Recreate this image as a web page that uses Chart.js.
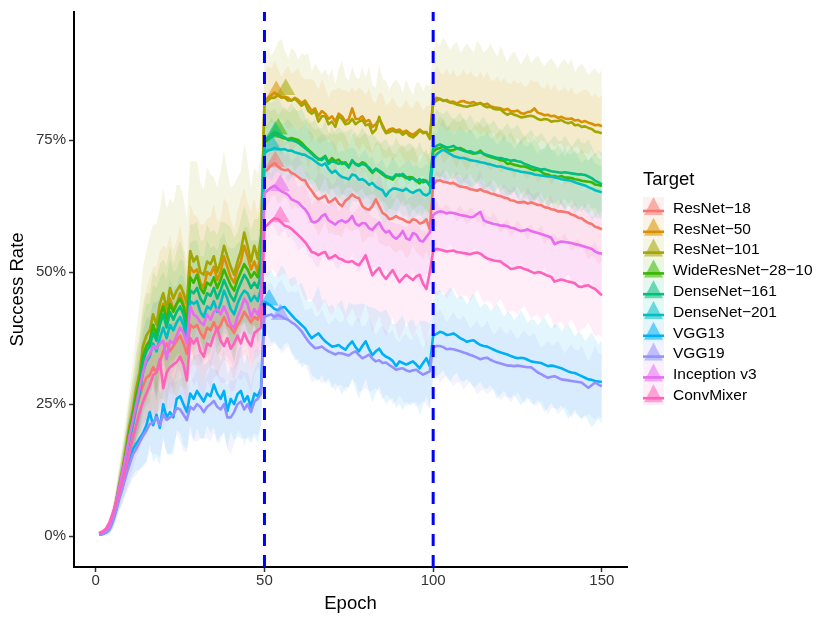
<!DOCTYPE html>
<html>
<head>
<meta charset="utf-8">
<script src="https://cdn.jsdelivr.net/npm/chart.js@4.4.1/dist/chart.umd.min.js"></script>
<style>
  html, body { margin: 0; padding: 0; background: #fff; }
  #wrap { width: 830px; height: 624px; position: relative; }
</style>
</head>
<body>
<div id="wrap"><canvas id="chart" width="830" height="624"></canvas></div>
<script>
var epochs = [];
for (var e = 1; e <= 150; e++) epochs.push(e);

var targets = ['ResNet\u221218', 'ResNet\u221250', 'ResNet\u2212101', 'WideResNet\u221228\u221210', 'DenseNet\u2212161',
    'DenseNet\u2212201', 'VGG13', 'VGG19', 'Inception v3', 'ConvMixer'];
var colors = ['#F8766D', '#D89000', '#A3A500', '#39B600', '#00BF7D', '#00BFC4', '#00B0F6', '#9590FF', '#E76BF3', '#FF62BC'];

var xTicks = [0, 50, 100, 150];
var yTicks = [0, 25, 50, 75];
var resetEpochs = [50, 100];

// success rate (%) per epoch
var resnet18 = [
    0.4, 0.6, 0.9, 1.7, 3.4, 6, 9, 12, 15, 18,
    21, 24, 26.5, 28.5, 30, 30.5, 32, 31, 33, 35,
    36.5, 35, 36, 37, 38, 36.5, 34.5, 40, 39.5, 40,
    38.5, 37.5, 39.5, 39, 40.5, 39, 40, 41.5, 40, 39.5,
    38.5, 40, 41, 42.5, 41.5, 40.5, 41.5, 41, 43,
    69, 69.5, 70.2, 70.6, 70, 69.5, 69.3, 69.4, 68.8, 68.5,
    68, 67.5, 67.4, 66.2, 65.4, 64.4, 63.8, 64.1, 64.5, 63.2,
    63.5, 64, 63, 62.5, 63.5, 64, 64.7, 64.2, 64, 62.5,
    62, 61.8, 62.5, 63.8, 62.5, 61.2, 60.8, 60, 60.2, 60.6,
    60.2, 60, 59.6, 59.4, 60, 59.8, 59.2, 59.4, 60, 58.1,
    66.5, 67.3, 67.4, 67.1, 67, 66.8, 66.9, 66.5, 66.2, 66.1,
    66, 65.7, 65.6, 65.4, 65.7, 65.3, 65.2, 64.9, 64.8, 64.5,
    64.4, 64.1, 64, 63.6, 63.5, 63.2, 63.2, 63.3, 63, 63.2,
    63, 62.7, 62.7, 62.3, 62.2, 61.9, 61.8, 61.5, 61.5, 61.4,
    61.3, 60.9, 60.7, 60.3, 60.2, 59.7, 59.3, 59.1, 58.6, 58.4, 58.1
];
var resnet50 = [
    0.4, 0.6, 0.9, 1.6, 3.2, 6, 9.5, 12.5, 16, 20,
    23, 27, 30, 34, 36, 37, 40, 38, 42, 44,
    41.5, 45, 43, 44, 46, 44, 42, 51, 50, 50.5,
    48, 47, 50, 49.5, 51, 48.5, 50, 53, 51, 49,
    48, 50.5, 52, 55, 53, 50.5, 52, 50, 55,
    82.5, 83, 83.5, 84, 83.5, 83, 83.2, 83, 82.5, 83,
    82.6, 82, 82.5, 81.5, 80.5, 81, 79.5, 80.5, 80, 79,
    79.5, 78.5, 80, 79.5, 78.5, 79, 81, 79, 79, 79.5,
    78.5, 78.8, 77.5, 78, 79, 77.8, 76.5, 77, 77.2, 76.8,
    77, 76.5, 76.8, 76.3, 76, 76.5, 77, 76.5, 76.5, 75.5,
    82.5, 83, 82.8, 82.4, 82.6, 82.2, 82.3, 81.9, 82.3, 82.4,
    82.1, 82, 82.2, 81.8, 82, 81.7, 81.9, 81.4, 81.2, 81.1,
    81, 80.7, 80.9, 80.5, 80.4, 80.6, 80.1, 80, 80.3, 80.4,
    81, 80.2, 80, 79.7, 79.8, 79.5, 79.6, 79.2, 79.4, 79.1,
    79, 79.1, 78.7, 78.8, 78.4, 78.6, 78.3, 78.1, 77.8, 77.9, 77.6
];
var resnet101 = [
    0.4, 0.6, 0.9, 1.8, 3.5, 6.5, 10, 13, 17, 21,
    24, 28, 31, 36, 38, 39, 42, 40, 44, 46,
    43, 47, 45, 46.5, 47.5, 46, 44, 54, 52, 53,
    50, 49.5, 52, 51.5, 53, 50, 52, 55, 53, 51,
    49.5, 52, 54, 57.5, 55, 52, 55, 52.5, 57,
    82, 82.5, 83, 83, 83.5, 83.2, 83, 82.5, 82.5, 82.8,
    82.2, 81.5, 82, 80.5, 80, 80.5, 78.5, 79.5, 79.5, 78,
    78.5, 77.5, 79.5, 79, 78, 78.2, 79, 78, 78.5, 78.8,
    77.8, 78, 76.3, 77, 79.4, 77.5, 76.3, 76.5, 76.8, 76.5,
    76.6, 76, 76.5, 75.8, 75.5, 76, 76.8, 76.3, 76.5, 75.2,
    82, 82.5, 82.8, 82.5, 82.4, 82.1, 82, 81.7, 81.6, 81.4,
    81.3, 81.5, 81.6, 81.8, 82, 81.5, 81.2, 81.3, 80.9, 80.8,
    80.8, 80.2, 79.8, 80.1, 79.8, 79.6, 79.3, 79.4, 79.5, 79.6,
    79.4, 79, 78.8, 79, 78.9, 78.5, 78.6, 78.6, 78.8, 78.4,
    78.2, 78.4, 77.8, 77.9, 77.5, 77.6, 77.3, 77.1, 76.6, 76.5, 76.3
];
var wideResnet = [
    0.4, 0.6, 0.9, 1.7, 3.4, 6.2, 9.5, 12.5, 16, 20,
    23, 26.5, 29.5, 34, 36, 37, 40, 38, 41.5, 43.5,
    41, 44, 42.5, 44, 45, 43.5, 40.5, 49, 48, 49.5,
    47, 46, 48, 47.5, 49, 47, 48.5, 50.5, 49, 47.5,
    46.5, 48.5, 50, 51.5, 50.5, 49, 50, 49, 52,
    74.5, 75, 75.5, 76, 75.8, 75.5, 75.3, 75.2, 75.4, 75.2,
    75, 74.5, 73.8, 73.2, 72.6, 72, 71.3, 71.5, 72, 70.8,
    71.6, 71, 71.3, 70.5, 70.8, 70, 71, 70.5, 70.3, 70.8,
    70.5, 69.5, 68.8, 69.5, 69, 68.5, 68, 67.8, 67.5, 68.3,
    68.5, 68.2, 67.8, 68, 67.9, 67.3, 66.8, 67.5, 67.3, 66.3,
    72.8, 73.3, 73.5, 73.8, 73.3, 73, 73.1, 73.4, 73.5, 73.2,
    72.8, 72.6, 72.4, 72.6, 73, 72.3, 72, 71.8, 71.6, 71.4,
    71.2, 71.1, 70.5, 70.6, 70.3, 70.2, 70, 70, 69.8, 69.5,
    69.3, 69.4, 69, 68.6, 68.5, 68.2, 68.2, 68, 68.2, 67.9,
    67.9, 67.8, 67.6, 67.5, 67.3, 67.2, 67.1, 67, 66.6, 66.5, 66.3
];
var densenet161 = [
    0.4, 0.6, 0.9, 1.7, 3.3, 6, 9.2, 12, 15.5, 19,
    22, 25.5, 28.5, 33, 35, 36, 38.5, 37, 40, 42,
    39.5, 42.5, 41, 42.5, 43.5, 42, 38.5, 46.5, 46, 47,
    45, 44, 46, 45.5, 47, 45, 46.5, 48.5, 47, 45.5,
    44.5, 46.5, 48, 49.5, 48.5, 47, 48, 47, 50,
    75, 75.5, 76, 76.5, 76.3, 75.8, 75.5, 75, 75, 74.8,
    74.5, 74, 73.5, 73, 72.4, 71.8, 71.5, 71.2, 71.8, 70.5,
    71, 70.8, 70.5, 70.8, 70.5, 69.8, 71.2, 70.4, 70.1, 70.5,
    70.2, 69.8, 69, 69.6, 69.2, 68.8, 68.2, 68, 67.8, 68.5,
    68.2, 68.6, 68, 67.5, 67.8, 67.2, 67.6, 67, 67.2, 66.5,
    73.5, 73.9, 74.2, 73.9, 73.6, 73.7, 73.9, 73.5, 73.2, 73,
    72.8, 72.9, 72.6, 72.5, 72.7, 72.4, 72.2, 72, 71.8, 71.6,
    71.6, 71.4, 71.3, 71.1, 71.2, 71, 70.9, 70.5, 70.3, 70,
    69.8, 69.6, 69.4, 69.5, 69.3, 69.1, 69, 68.9, 68.8, 68.9,
    68.8, 68.7, 68.6, 68.5, 68.5, 68.4, 68.1, 67.8, 67.3, 67, 66.6
];
var densenet201 = [
    0.4, 0.6, 0.9, 1.6, 3.2, 5.8, 9, 11.5, 15, 18.5,
    21, 24.5, 27, 31, 33, 34, 36.5, 35, 37.5, 39.5,
    37.5, 40, 39, 40.5, 41.5, 40, 37, 44.5, 44, 44.5,
    42.5, 41.5, 43.5, 43, 44.5, 42.5, 44, 46.5, 45, 43,
    42, 44, 45.5, 46.5, 46, 44.5, 45.5, 44.5, 47,
    72.5, 73, 73.2, 73.5, 73.3, 73.2, 73.3, 73, 73, 72.7,
    72.5, 72.3, 72.2, 71.8, 71.5, 71, 70.5, 70.2, 70.6, 69.5,
    68.8, 69.2, 68.5, 68, 67.8, 67.6, 68.5, 68.3, 67.5, 67.6,
    67.2, 66.5, 66.9, 66.2, 65.8, 65.5, 64.4, 65.3, 65.8, 65.8,
    65.6, 65.4, 65.8, 65.3, 65, 65.4, 65.6, 64.8, 64.5, 65,
    71.5, 72.3, 72.8, 73.2, 72.8, 72.4, 72, 71.8, 71.6, 71.6,
    71.4, 71.2, 71.1, 71, 70.8, 70.7, 70.5, 70.4, 70.2, 70,
    70, 69.8, 69.6, 69.5, 69.3, 69.2, 69, 68.9, 68.8, 68.7,
    68.5, 68.4, 68.3, 68.2, 68.1, 68.1, 67.9, 67.8, 67.6, 67.5,
    67.4, 67.3, 67, 66.8, 66.6, 66.4, 66.1, 65.8, 65.5, 65.3, 65.1
];
var vgg13 = [
    0.3, 0.4, 0.7, 1.3, 2.8, 5, 7.5, 9.5, 12, 14,
    16.5, 17.5, 18.5, 19.5, 21, 23.5, 21, 23, 20.5, 25,
    22.5, 23.5, 22.5, 26, 26.5, 25, 23.5, 27, 26, 27.5,
    26.5, 25.5, 27, 26.5, 28.7, 27, 26, 27.5, 23.7, 26,
    25, 26.9, 27.5, 25.5, 26.5, 24.5, 27, 26.5, 28,
    44.4, 44, 43.6, 43, 42.8, 43.3, 43.4, 42.6, 41.9, 41.2,
    40.6, 40, 39.4, 38.4, 37.5, 38, 38.4, 37.6, 36.9, 36.4,
    35.9, 36, 36.2, 35.7, 35.3, 36.2, 36.9, 35.8, 35, 36,
    36.9, 35.4, 34.3, 35, 35.5, 34.5, 34, 33.7, 33.2, 32.2,
    33.1, 32.8, 32.5, 32.8, 33.1, 32.5, 31.8, 32.8, 33.7, 32.2,
    38, 38.3, 38.7, 38.5, 38.1, 38.2, 38.4, 38, 37.5, 37.2,
    36.8, 37, 37.1, 36.6, 36.2, 36, 35.9, 35.6, 35.3, 35,
    34.8, 34.6, 34.4, 34.1, 33.9, 33.7, 33.8, 33.7, 33.4, 33.1,
    33, 32.9, 32.8, 32.5, 32.2, 32.3, 32.2, 32, 31.8, 31.5,
    31.2, 31, 30.9, 30.6, 30.3, 30, 29.7, 29.6, 29.4, 29.3, 29.2
];
var vgg19 = [
    0.3, 0.4, 0.7, 1.3, 2.7, 4.8, 7.3, 9.3, 11.5, 13.5,
    15.5, 16.5, 17.8, 19, 20, 21.2, 21.5, 22.5, 21, 23.1,
    22, 22.5, 23, 24.3, 24, 23, 22, 24.5, 24, 25,
    24.5, 23.5, 24.5, 25, 25.6, 24.5, 24, 25, 22.5, 22.5,
    23.5, 25, 25.5, 24, 25, 23.5, 25.5, 26, 27,
    41.5, 41.8, 42, 41.5, 41.9, 41.6, 41.2, 41, 40.5, 40.1,
    39.5, 38.8, 37.8, 36.9, 36.2, 35.6, 35.7, 35.9, 35.4, 35,
    34.7, 34.4, 34.7, 34.6, 34.4, 34.2, 34.7, 35, 34.3, 33.7,
    34, 34.4, 33.6, 33.1, 33.3, 32.8, 32.9, 32.4, 32, 31.5,
    31.7, 31.8, 31.4, 31.2, 31.4, 31.5, 31, 30.6, 30.9, 31.2,
    35.8, 36, 36, 35.8, 35.4, 35.5, 35.4, 35.2, 35, 34.8,
    34.6, 34.3, 34.1, 33.8, 33.5, 33.7, 33.8, 33.4, 33.1, 32.9,
    32.7, 32.5, 32.3, 32.3, 32.2, 32.3, 32.2, 32.1, 32, 32,
    31.5, 31, 30.7, 30.3, 30, 30.2, 30.3, 30, 29.7, 29.6,
    29.5, 29.4, 29.3, 29.2, 29.1, 28.6, 28.1, 28.6, 29.1, 28.7, 28.4
];
var inception = [
    0.5, 0.7, 1.1, 2, 3.8, 6.5, 9.5, 12.5, 15.5, 19,
    22, 25, 28, 31, 33.5, 34.5, 36, 35.5, 36.5, 37,
    33.5, 37, 36.5, 38, 39.5, 38.5, 36.5, 43.5, 42, 41.5,
    40.5, 40, 42, 41, 42.5, 43, 42, 43.5, 42, 40,
    39.5, 41.5, 43, 45, 44, 41.5, 43, 42, 44,
    65, 65.5, 66, 66.4, 65.8, 65.3, 65, 64.6, 63.8, 63.5,
    63.2, 62.5, 61.9, 61, 59.6, 59.4, 59.8, 60.6, 61, 59.8,
    59.4, 59, 59.6, 59.8, 59.4, 59.8, 60.6, 59.2, 58.8, 59.3,
    59.2, 58.3, 58, 58.8, 59.4, 58.2, 57.5, 57.8, 56.8, 56.3,
    56.9, 57.8, 56.4, 56.1, 57.4, 57.1, 56, 55.8, 56.7, 57.5,
    60.8, 61.3, 61.5, 61.4, 61.1, 61.3, 61.2, 61, 60.8, 60.7,
    60.6, 60.4, 60.5, 61, 61.4, 59.8, 59.5, 59.3, 59.1, 59,
    58.8, 58.8, 58.7, 58.4, 58.3, 58, 57.8, 57.9, 58.1, 57.8,
    57.6, 57.4, 57.2, 57, 56.8, 56.5, 55.3, 55.6, 55.8, 55.7,
    55.6, 55.5, 55.3, 55.2, 55, 54.8, 54.6, 54.4, 53.9, 53.6, 53.5
];
var convMixer = [
    0.6, 0.9, 1.4, 2.5, 4.3, 6.2, 8.2, 10.5, 13, 16,
    18.6, 21, 23.5, 25.5, 27, 28.5, 30.5, 31, 33.5, 28,
    31, 32, 32.5, 33, 34, 32.5, 29.5, 37.5, 36.5, 37.5,
    35, 34, 36.5, 36, 38, 39.5, 37, 36, 37.5, 35.5,
    36.5, 38, 36.5, 38.5, 37, 36, 38.5, 39, 39.5,
    58.5, 59, 59.7, 60.2, 60, 59.4, 58.8, 58.6, 58.2, 57.6,
    57, 56.4, 55.7, 54.8, 53.8, 53.6, 53.2, 53.6, 53.8, 52.6,
    52.8, 53.2, 52.6, 52.4, 52, 51.9, 52.1, 51.6, 51.3, 52.2,
    53.2, 51.2, 49.4, 50.2, 50.8, 49.5, 48.7, 49.6, 50.4, 49.2,
    48.1, 48.8, 49.5, 49, 48.5, 49.2, 49.5, 47.8, 46.8, 50,
    54, 54.4, 54.3, 54.1, 53.9, 54, 54.1, 53.8, 53.7, 53.6,
    53.5, 53.4, 53.6, 53.7, 53.5, 53, 52.6, 52.4, 52.2, 52.1,
    52, 51.5, 51.1, 50.6, 50.7, 50.9, 50.9, 50.6, 50.4, 50.1,
    49.8, 50, 49.9, 49.6, 49.3, 49.1, 48.2, 48.4, 48.6, 48.4,
    48.2, 48.1, 47.9, 47.3, 47.2, 47.4, 47.5, 47.1, 46.8, 46.2, 45.6
];

// spread of the shaded band (± percentage points) per epoch
var resnet18Sd = [
    0.2, 0.3, 0.5, 1, 1.5, 2, 3, 3.5, 4, 5,
    6, 6, 7, 7, 8, 7, 9, 8, 9, 8, 7, 8, 9, 8, 7, 9, 9, 8, 7, 8,
    8, 9, 8, 7, 8, 9, 8, 8, 7, 8, 9, 8, 7, 8, 8, 9, 8, 7, 8,
    6, 7, 6, 6, 7, 6, 5, 6, 7, 6, 6, 5, 6, 7, 6, 6, 7, 6, 5, 6, 6, 7, 6, 6, 5,
    6, 7, 6, 6, 7, 6, 5, 6, 6, 7, 6, 6, 5, 6, 7, 6, 6, 7, 6, 5, 6, 6, 7, 6, 6,
    6, 6, 7, 6, 6, 5, 6, 7, 6, 6, 7, 6, 5, 6, 6, 7, 6, 6, 5, 6, 7, 6, 6, 7, 6,
    5, 6, 6, 7, 6, 6, 5, 6, 7, 6, 6, 7, 6, 5, 6, 6, 7, 6, 6, 5, 6, 7, 6, 6, 7, 6
];
var resnet50Sd = [
    0.2, 0.3, 0.5, 1, 1.5, 2.5, 3, 4, 5, 6,
    7, 8, 9, 10, 11, 12, 11, 13, 12, 11, 13, 12, 11, 12, 13, 11, 10, 12, 11, 10,
    11, 12, 10, 11, 12, 11, 10, 11, 12, 11, 10, 11, 12, 11, 10, 11, 12, 11, 10,
    5, 6, 5, 6, 5, 4, 5, 6, 5, 5, 6, 5, 4, 5, 6, 5, 5, 6, 5, 4, 5, 6, 5, 5, 6,
    5, 4, 5, 6, 5, 5, 6, 5, 4, 5, 6, 5, 5, 6, 5, 4, 5, 6, 5, 5, 6, 5, 4, 5, 6,
    5, 6, 5, 5, 6, 5, 6, 5, 5, 6, 5, 6, 5, 5, 6, 5, 6, 5, 5, 6, 5, 6, 5, 5, 6,
    5, 6, 5, 5, 6, 5, 6, 5, 5, 6, 5, 6, 5, 5, 6, 5, 6, 5, 5, 6, 6, 6, 5, 6, 5, 6
];
var resnet101Sd = [
    0.2, 0.3, 0.6, 1, 2, 3, 4, 5, 6, 7,
    9, 11, 13, 15, 16, 18, 17, 19, 18, 20, 19, 17, 18, 20, 19, 18, 16, 17, 19, 18,
    17, 16, 18, 17, 15, 16, 17, 18, 16, 15, 17, 16, 15, 17, 16, 14, 15, 16, 15,
    9, 10, 8, 9, 10, 11, 9, 8, 10, 9, 8, 10, 9, 11, 8, 9, 10, 8, 9, 9, 10, 8, 9, 11, 9,
    8, 10, 9, 8, 10, 9, 11, 9, 8, 10, 9, 10, 8, 9, 10, 9, 8, 10, 9, 8, 10, 9, 8, 9, 10,
    10, 11, 10, 12, 11, 10, 11, 12, 10, 11, 12, 11, 10, 12, 11, 10, 11, 12, 11, 10, 12, 11, 10, 11, 12,
    11, 10, 11, 12, 10, 11, 12, 11, 10, 11, 12, 11, 10, 11, 12, 11, 12, 10, 11, 12, 11, 10, 11, 12, 11, 12
];
var wideResnetSd = [
    0.2, 0.3, 0.5, 1, 1.5, 2.5, 3, 4, 5, 6,
    7, 8, 8, 9, 10, 9, 10, 11, 10, 9, 10, 11, 9, 10, 11, 10, 9, 10, 11, 10,
    9, 10, 11, 10, 9, 10, 11, 9, 10, 11, 10, 9, 10, 11, 10, 9, 10, 11, 10,
    5, 6, 5, 5, 4, 5, 6, 5, 5, 6, 5, 4, 5, 6, 5, 5, 6, 5, 4, 5, 6, 5, 5, 6, 5,
    4, 5, 6, 5, 5, 6, 5, 4, 5, 6, 5, 5, 6, 5, 4, 5, 6, 5, 5, 6, 5, 4, 5, 6, 5,
    5, 5, 6, 5, 4, 5, 6, 5, 5, 6, 5, 4, 5, 6, 5, 5, 6, 5, 4, 5, 6, 5, 5, 6, 5,
    4, 5, 6, 5, 5, 6, 5, 4, 5, 6, 5, 5, 6, 5, 4, 5, 6, 5, 5, 6, 5, 4, 5, 6, 5, 5
];
var densenet161Sd = [
    0.2, 0.3, 0.5, 1, 1.5, 2, 3, 4, 4.5, 5.5,
    6, 7, 8, 8, 9, 8, 9, 10, 9, 8, 9, 10, 9, 8, 9, 10, 8, 9, 10, 9,
    8, 9, 10, 9, 8, 9, 10, 9, 8, 9, 10, 9, 8, 9, 10, 9, 8, 9, 10,
    6, 7, 6, 6, 7, 6, 5, 6, 7, 6, 6, 7, 6, 5, 6, 7, 6, 6, 7, 6, 5, 6, 7, 6, 6,
    7, 6, 5, 6, 7, 6, 6, 7, 6, 5, 6, 7, 6, 6, 7, 6, 5, 6, 7, 6, 6, 7, 6, 5, 6,
    6, 7, 6, 6, 7, 6, 5, 6, 7, 6, 6, 7, 6, 5, 6, 7, 6, 6, 7, 6, 5, 6, 7, 6, 6,
    7, 6, 5, 6, 7, 6, 6, 7, 6, 5, 6, 7, 6, 6, 7, 6, 5, 6, 7, 6, 6, 7, 6, 5, 6, 6
];
var densenet201Sd = [
    0.2, 0.3, 0.5, 1, 1.5, 2, 3, 3.5, 4.5, 5,
    6, 6, 7, 8, 8, 7, 8, 9, 8, 7, 8, 9, 8, 7, 8, 9, 8, 8, 9, 8,
    7, 8, 9, 8, 7, 8, 9, 8, 7, 8, 9, 8, 7, 8, 9, 8, 7, 8, 9,
    5, 5, 6, 5, 4, 5, 5, 6, 5, 5, 4, 5, 6, 5, 5, 4, 5, 6, 5, 5, 6, 5, 4, 5, 5,
    6, 5, 5, 4, 5, 6, 5, 5, 4, 5, 6, 5, 5, 6, 5, 4, 5, 5, 6, 5, 5, 4, 5, 6, 5,
    5, 4, 5, 6, 5, 5, 4, 5, 6, 5, 5, 6, 5, 4, 5, 5, 6, 5, 5, 4, 5, 6, 5, 5, 4,
    5, 6, 5, 5, 6, 5, 4, 5, 5, 6, 5, 5, 4, 5, 6, 5, 5, 6, 5, 4, 5, 5, 6, 5, 5, 5
];
var vgg13Sd = [
    0.2, 0.3, 0.5, 1, 1.5, 2, 2.5, 3, 3.5, 4,
    5, 5, 6, 6, 7, 6, 7, 8, 7, 6, 7, 8, 7, 6, 7, 8, 7, 6, 8, 7,
    8, 7, 6, 7, 8, 9, 7, 8, 7, 6, 7, 8, 9, 7, 8, 7, 8, 9, 7,
    5, 6, 7, 6, 7, 8, 7, 6, 7, 8, 7, 8, 7, 6, 7, 8, 9, 7, 8, 7, 8, 7, 8, 9, 7,
    8, 7, 8, 9, 8, 7, 8, 9, 8, 7, 8, 9, 8, 7, 8, 8, 9, 7, 8, 8, 7, 9, 8, 7, 8,
    7, 8, 8, 7, 8, 9, 8, 7, 8, 8, 7, 8, 9, 8, 7, 8, 8, 7, 8, 9, 8, 7, 8, 8, 7,
    8, 9, 8, 7, 8, 8, 7, 8, 9, 8, 7, 8, 8, 7, 8, 9, 8, 7, 8, 8, 7, 8, 9, 8, 7, 8
];
var vgg19Sd = [
    0.2, 0.3, 0.5, 1, 1.5, 2, 2.5, 3, 3.5, 4,
    4.5, 5, 5, 6, 6, 5, 6, 7, 6, 5, 6, 7, 6, 5, 6, 7, 6, 5, 6, 7,
    6, 5, 6, 7, 6, 7, 6, 5, 6, 7, 6, 5, 6, 7, 6, 5, 6, 7, 6,
    5, 6, 6, 5, 6, 7, 6, 5, 6, 6, 7, 6, 5, 6, 7, 6, 6, 7, 6, 5, 6, 7, 6, 6, 7,
    6, 5, 6, 7, 6, 6, 7, 6, 5, 6, 7, 6, 6, 7, 6, 5, 6, 7, 6, 6, 7, 6, 5, 6, 7,
    6, 6, 7, 6, 5, 6, 7, 6, 6, 7, 6, 5, 6, 7, 6, 6, 7, 6, 5, 6, 7, 6, 6, 7, 6,
    5, 6, 7, 6, 6, 7, 6, 5, 6, 7, 6, 6, 7, 6, 5, 6, 7, 6, 6, 7, 6, 5, 6, 7, 6, 6
];
var inceptionSd = [
    0.2, 0.3, 0.6, 1, 1.5, 2.5, 3, 4, 4.5, 5,
    6, 6, 7, 7, 8, 7, 8, 9, 8, 7, 8, 9, 8, 7, 8, 9, 8, 7, 8, 9,
    8, 7, 8, 9, 8, 7, 8, 9, 8, 7, 8, 9, 8, 7, 8, 9, 8, 7, 8,
    7, 8, 7, 8, 9, 8, 7, 8, 7, 8, 9, 8, 7, 8, 7, 8, 9, 8, 7, 8, 7, 8, 9, 8, 7,
    8, 7, 8, 9, 8, 7, 8, 7, 8, 9, 8, 7, 8, 7, 8, 9, 8, 7, 8, 7, 8, 9, 8, 7, 8,
    7, 8, 7, 8, 7, 6, 7, 8, 7, 7, 8, 7, 6, 7, 8, 7, 7, 8, 7, 6, 7, 8, 7, 7, 8,
    7, 6, 7, 8, 7, 7, 8, 7, 6, 7, 8, 7, 7, 8, 7, 6, 7, 8, 7, 7, 8, 7, 6, 7, 8, 7
];
var convMixerSd = [
    0.2, 0.4, 0.6, 1, 1.5, 2, 3, 3.5, 4.5, 5,
    6, 6, 7, 7, 8, 7, 8, 8, 7, 8, 7, 8, 8, 7, 8, 9, 8, 7, 8, 8,
    9, 8, 7, 8, 8, 9, 8, 7, 8, 8, 9, 8, 7, 8, 8, 9, 8, 7, 8,
    9, 10, 9, 10, 11, 10, 9, 10, 11, 10, 9, 10, 11, 10, 9, 10, 11, 10, 9, 10, 11, 10, 9, 10, 11,
    10, 9, 10, 11, 10, 9, 10, 11, 10, 9, 10, 11, 10, 9, 10, 11, 10, 9, 10, 11, 10, 9, 10, 11, 10,
    8, 9, 8, 8, 9, 8, 7, 8, 9, 8, 8, 9, 8, 7, 8, 9, 8, 8, 9, 8, 7, 8, 9, 8, 8,
    9, 8, 7, 8, 9, 8, 8, 9, 8, 7, 8, 9, 8, 8, 9, 8, 7, 8, 9, 8, 8, 7, 8, 9, 8, 8
];

// the triangle marker on each curve after the first reset
var peakEpoch = [53.2, 53.5, 56.3, 54.1, 53.2, 52.2, 51.4, 54.7, 54.7, 54.7];
var peakRate = [70.9, 84.2, 84.6, 77.1, 76.5, 74, 44.7, 42, 66.4, 60.5];

var means = [resnet18, resnet50, resnet101, wideResnet, densenet161, densenet201, vgg13, vgg19, inception, convMixer];
var spreads = [resnet18Sd, resnet50Sd, resnet101Sd, wideResnetSd, densenet161Sd, densenet201Sd, vgg13Sd, vgg19Sd, inceptionSd, convMixerSd];

means.concat(spreads).forEach(function (arr, k) {
    if (arr.length !== epochs.length) console.error('array ' + k + ' has ' + arr.length + ' values');
});

var FONT = '"Liberation Sans", Arial, Helvetica, sans-serif';

function withAlpha(hex, a) {
    var r = parseInt(hex.slice(1, 3), 16);
    var g = parseInt(hex.slice(3, 5), 16);
    var b = parseInt(hex.slice(5, 7), 16);
    return 'rgba(' + r + ',' + g + ',' + b + ',' + a + ')';
}

function points(i, sign) {
    return epochs.map(function (ep, j) {
        return { x: ep, y: means[i][j] + sign * spreads[i][j] };
    });
}

var datasets = [];
targets.forEach(function (name, i) {
    // band: upper edge fills down to the lower edge that follows it
    datasets.push({
        label: name + ' upper',
        data: points(i, 1),
        fill: '+1',
        backgroundColor: withAlpha(colors[i], 0.11),
        borderWidth: 0,
        pointRadius: 0,
        order: 100 + i,
    });
    datasets.push({
        label: name + ' lower',
        data: points(i, -1),
        fill: false,
        borderWidth: 0,
        pointRadius: 0,
        order: 100 + i,
    });
});
targets.forEach(function (name, i) {
    datasets.push({
        label: name,
        data: points(i, 0),
        borderColor: colors[i],
        borderWidth: 2.6,
        borderJoinStyle: 'round',
        pointRadius: 0,
        fill: false,
        order: 50 - i,
    });
});
targets.forEach(function (name, i) {
    datasets.push({
        label: name + ' peak',
        data: [{ x: peakEpoch[i], y: peakRate[i] }],
        showLine: false,
        pointStyle: 'triangle',
        pointRadius: 11,
        pointBorderWidth: 0,
        pointBackgroundColor: withAlpha(colors[i], 0.55),
        order: 20 - i,
    });
});

var resetLines = {
    id: 'resetLines',
    afterDatasetsDraw: function (chart) {
        var ctx = chart.ctx;
        var area = chart.chartArea;
        var xs = chart.scales.x;
        ctx.save();
        ctx.strokeStyle = '#0000FF';
        ctx.lineWidth = 3;
        ctx.setLineDash([12, 9]);
        resetEpochs.forEach(function (ep) {
            var px = xs.getPixelForValue(ep);
            ctx.beginPath();
            ctx.moveTo(px, area.bottom);
            ctx.lineTo(px, area.top);
            ctx.stroke();
        });
        ctx.restore();
    },
};

var targetLegend = {
    id: 'targetLegend',
    afterDraw: function (chart) {
        var ctx = chart.ctx;
        var x0 = 643;
        ctx.save();
        ctx.textBaseline = 'middle';
        ctx.textAlign = 'left';
        ctx.fillStyle = '#000';
        ctx.font = '18.5px ' + FONT;
        ctx.fillText('Target', x0, 180);
        targets.forEach(function (name, i) {
            var cy = 207.5 + i * 20.8;
            ctx.fillStyle = withAlpha(colors[i], 0.11);
            ctx.fillRect(x0, cy - 10.4, 21, 20.8);
            ctx.fillStyle = withAlpha(colors[i], 0.55);
            ctx.beginPath();
            ctx.moveTo(x0 + 10.5, cy - 10.5);
            ctx.lineTo(x0 + 20, cy + 7.5);
            ctx.lineTo(x0 + 1, cy + 7.5);
            ctx.closePath();
            ctx.fill();
            ctx.strokeStyle = colors[i];
            ctx.lineWidth = 2.6;
            ctx.beginPath();
            ctx.moveTo(x0, cy + 3.5);
            ctx.lineTo(x0 + 21, cy + 3.5);
            ctx.stroke();
            ctx.fillStyle = '#000';
            ctx.font = '15.5px ' + FONT;
            ctx.fillText(name, 673, cy + 1);
        });
        ctx.restore();
    },
};

Chart.defaults.font.family = FONT;

new Chart(document.getElementById('chart').getContext('2d'), {
    type: 'line',
    data: { datasets: datasets },
    options: {
        responsive: false,
        devicePixelRatio: 1,
        animation: false,
        events: [],
        layout: { padding: { top: 8, right: 203, left: 0, bottom: 0 } },
        plugins: {
            legend: { display: false },
            tooltip: { enabled: false },
        },
        scales: {
            x: {
                type: 'linear',
                min: -6.45,
                max: 157.45,
                afterBuildTicks: function (scale) {
                    scale.ticks = xTicks.map(function (v) { return { value: v }; });
                },
                afterFit: function (scale) { scale.height = 57; },
                ticks: { color: '#333', font: { size: 15 }, padding: 0, maxRotation: 0, autoSkip: false },
                grid: { drawOnChartArea: false, drawTicks: true, tickLength: 5, tickColor: '#333', tickWidth: 1.5 },
                border: { display: true, color: '#000', width: 2 },
                title: { display: true, text: 'Epoch', color: '#000', font: { size: 18.5 }, padding: { top: 0, bottom: 9 } },
            },
            y: {
                type: 'linear',
                min: -5.83,
                max: 99.25,
                afterBuildTicks: function (scale) {
                    scale.ticks = yTicks.map(function (v) { return { value: v }; });
                },
                afterFit: function (scale) { scale.width = 74; },
                ticks: {
                    color: '#333',
                    font: { size: 15 },
                    padding: 3,
                    callback: function (v) { return v + '%'; },
                },
                grid: { drawOnChartArea: false, drawTicks: true, tickLength: 5, tickColor: '#333', tickWidth: 1.5 },
                border: { display: true, color: '#000', width: 2 },
                title: { display: true, text: 'Success Rate', color: '#000', font: { size: 18.5 }, padding: { top: 7, bottom: 0 } },
            },
        },
    },
    plugins: [resetLines, targetLegend],
});
</script>
</body>
</html>
